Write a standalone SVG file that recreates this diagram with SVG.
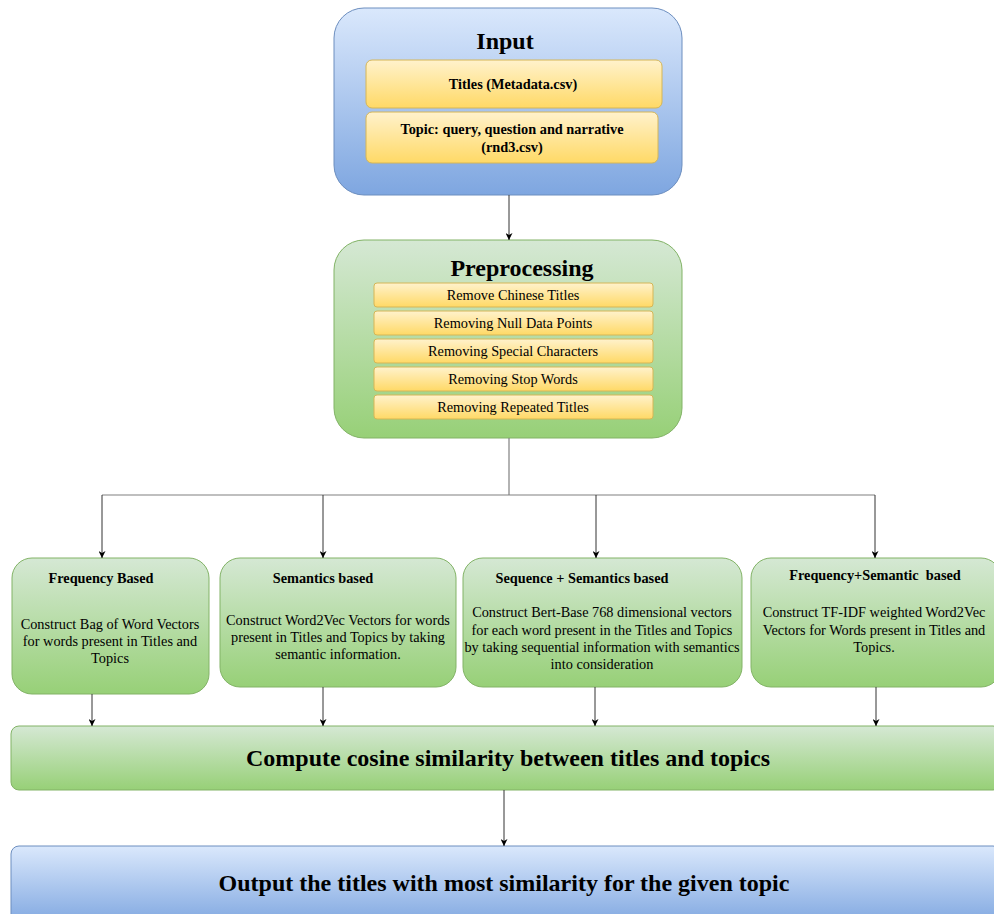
<svg xmlns="http://www.w3.org/2000/svg" width="994" height="914" viewBox="0 0 994 914">
<defs>
<linearGradient id="gBlue" x1="0" y1="0" x2="0" y2="1"><stop offset="0" stop-color="#dae8fc"/><stop offset="1" stop-color="#7ea6e0"/></linearGradient>
<linearGradient id="gGreen" x1="0" y1="0" x2="0" y2="1"><stop offset="0" stop-color="#d5e8d4"/><stop offset="1" stop-color="#97d077"/></linearGradient>
<linearGradient id="gYellow" x1="0" y1="0" x2="0" y2="1"><stop offset="0" stop-color="#fff2cc"/><stop offset="1" stop-color="#ffd966"/></linearGradient>
<marker id="arr" viewBox="0 0 10 10" refX="10" refY="5" markerWidth="7" markerHeight="7" orient="auto" markerUnits="userSpaceOnUse"><path d="M0,0 L10,5 L0,10 L3,5 Z" fill="#000"/></marker>
</defs>
<style>
text{font-family:"Liberation Serif","Times New Roman",serif;fill:#000;text-anchor:middle;}
.blue{fill:url(#gBlue);stroke:#6c8ebf;stroke-width:1;}
.green{fill:url(#gGreen);stroke:#82b366;stroke-width:1;}
.yel{fill:url(#gYellow);stroke:#d6b656;stroke-width:1;}
.big{font-size:24px;font-weight:bold;}
.sb{font-size:14.3px;font-weight:bold;}
.sr{font-size:14.3px;}
.pr{font-size:14.3px;}
.line{fill:none;stroke:#808080;stroke-width:1.2;}
.arrow{fill:none;stroke:#333;stroke-width:1;marker-end:url(#arr);}
</style>
<rect width="994" height="914" fill="#fff"/>

<g id="input">
<rect class="blue" x="334" y="8" width="348" height="187" rx="30"/>
<text class="big" x="505" y="49">Input</text>
<rect class="yel" x="366" y="60" width="296" height="48" rx="6"/>
<text class="sb" x="513" y="89">Titles (Metadata.csv)</text>
<rect class="yel" x="366" y="112" width="292" height="51" rx="6"/>
<text class="sb" x="512" y="134">Topic: query, question and narrative</text>
<text class="sb" x="512" y="152">(rnd3.csv)</text>
</g>

<g id="preprocessing">
<rect class="green" x="334" y="240" width="348" height="198" rx="30"/>
<text class="big" x="522" y="276">Preprocessing</text>
<rect class="yel" x="374" y="283" width="279" height="24" rx="3"/>
<text class="pr" x="513" y="300">Remove Chinese Titles</text>
<rect class="yel" x="374" y="311" width="279" height="24" rx="3"/>
<text class="pr" x="513" y="328">Removing Null Data Points</text>
<rect class="yel" x="374" y="339" width="279" height="24" rx="3"/>
<text class="pr" x="513" y="356">Removing Special Characters</text>
<rect class="yel" x="374" y="367" width="279" height="24" rx="3"/>
<text class="pr" x="513" y="384">Removing Stop Words</text>
<rect class="yel" x="374" y="395" width="279" height="24" rx="3"/>
<text class="pr" x="513" y="412">Removing Repeated Titles</text>
</g>

<g id="frequency">
<rect class="green" x="12" y="558" width="197" height="136" rx="20"/>
<text class="sb" x="101" y="583">Frequency Based</text>
<text class="sr" x="110" y="629">Construct Bag of Word Vectors</text>
<text class="sr" x="110" y="646">for words present in Titles and</text>
<text class="sr" x="110" y="663">Topics</text>
</g>

<g id="semantics">
<rect class="green" x="220" y="558" width="236" height="129" rx="20"/>
<text class="sb" x="323" y="583">Semantics based</text>
<text class="sr" x="338" y="625">Construct Word2Vec Vectors for words</text>
<text class="sr" x="338" y="642">present in Titles and Topics by taking</text>
<text class="sr" x="338" y="659">semantic information.</text>
</g>

<g id="sequence">
<rect class="green" x="463" y="558" width="279" height="129" rx="20"/>
<text class="sb" x="582" y="583">Sequence + Semantics based</text>
<text class="sr" x="602" y="617">Construct Bert-Base 768 dimensional vectors</text>
<text class="sr" x="602" y="635">for each word present in the Titles and Topics</text>
<text class="sr" x="602" y="652">by taking sequential information with semantics</text>
<text class="sr" x="602" y="669">into consideration</text>
</g>

<g id="freqsemantic">
<rect class="green" x="751" y="558" width="250" height="129" rx="20"/>
<text class="sb" x="875" y="580" xml:space="preserve">Frequency+Semantic  based</text>
<text class="sr" x="874" y="617">Construct TF-IDF weighted Word2Vec</text>
<text class="sr" x="874" y="635">Vectors for Words present in Titles and</text>
<text class="sr" x="874" y="652">Topics.</text>
</g>

<g id="compute">
<rect class="green" x="11" y="726" width="990" height="64" rx="8"/>
<text class="big" x="508" y="766">Compute cosine similarity between titles and topics</text>
</g>

<g id="output">
<rect class="blue" x="11" y="846" width="990" height="80" rx="8"/>
<text class="big" x="504" y="891">Output the titles with most similarity for the given topic</text>
</g>

<g id="connectors">
<line class="arrow" x1="509" y1="195" x2="509" y2="240"/>
<polyline class="line" points="509,438 509,495"/>
<line class="line" x1="102" y1="495" x2="875" y2="495"/>
<line class="arrow" x1="102" y1="495" x2="102" y2="558"/>
<line class="arrow" x1="323" y1="495" x2="323" y2="558"/>
<line class="arrow" x1="596" y1="495" x2="596" y2="558"/>
<line class="arrow" x1="875" y1="495" x2="875" y2="558"/>
<line class="arrow" x1="92" y1="694" x2="92" y2="726"/>
<line class="arrow" x1="323" y1="687" x2="323" y2="726"/>
<line class="arrow" x1="595" y1="687" x2="595" y2="726"/>
<line class="arrow" x1="876" y1="687" x2="876" y2="726"/>
<line class="arrow" x1="504" y1="790" x2="504" y2="846"/>
</g>
</svg>
